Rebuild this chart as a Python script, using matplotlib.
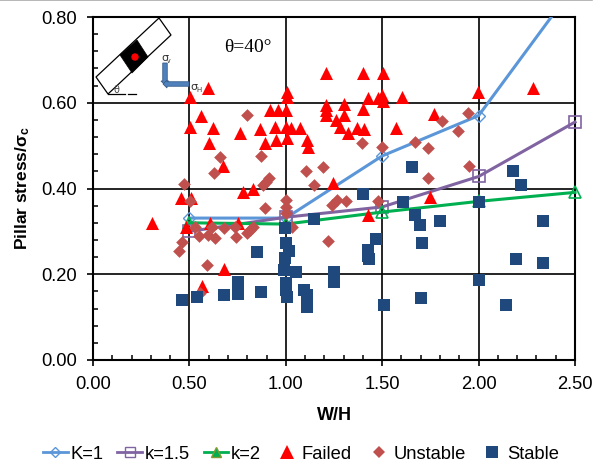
import matplotlib
matplotlib.use("Agg")
import matplotlib.pyplot as plt
from matplotlib.lines import Line2D
from matplotlib.patches import Polygon, Circle, FancyArrow
from matplotlib.ticker import MultipleLocator, FormatStrFormatter
from matplotlib.transforms import Affine2D

plt.rcParams['font.family'] = ['Liberation Sans', 'DejaVu Sans']
plt.rcParams['mathtext.fontset'] = 'custom'
plt.rcParams['mathtext.bf'] = 'Liberation Sans:bold'
plt.rcParams['mathtext.rm'] = 'Liberation Sans'

# Stability curves
wh_curve = [0.5, 1.0, 1.5, 2.0, 2.5]
k1_values = [0.331, 0.331, 0.476, 0.570, 0.875]
k15_values = [0.300, 0.333, 0.357, 0.428, 0.555]
k2_values = [0.320, 0.317, 0.345, 0.370, 0.391]

# Case histories
failed_x = [.503, .596, .560, .503, .622, .601, .762, .674, .865, .917, .959, 1.0, .943, 1.0,
            1.026, 1.073, .891, .948, 1.005, .777, .829, .456, .508, 1.005, 1.005, 1.207,
            1.207, 1.207, 1.301, 1.301, 1.399, 1.425, 1.477, 1.497, 1.503, 1.601, 1.259,
            1.280, 1.321, 1.368, 1.404, 1.109, 1.114, 1.244, 1.570, 1.767, 1.207, 1.399,
            1.503, 2.280, 1.995, .306, .482, .606, .751, .679, .565, 1.425, 1.746]
failed_y = [.613, .634, .569, .543, .541, .506, .529, .452, .539, .583, .583, .583, .543, .543,
            .541, .541, .506, .513, .518, .392, .399, .378, .378, .625, .613, .595,
            .583, .571, .597, .571, .585, .611, .611, .618, .604, .613, .560,
            .543, .529, .541, .539, .513, .497, .413, .541, .574, .669, .669,
            .669, .634, .625, .320, .310, .320, .320, .212, .173, .338, .380]

unstable_x = [.798, .658, .627, .870, .881, .896, .912, .472, .503, .891, 1.0, 1.0, 1.0, 1.394,
              1.497, 1.104, 1.192, 1.145, 1.311, 1.264, 1.238, 1.477, 1.808, 1.943, 1.891,
              1.668, 1.736, 1.948, 1.736, 1.218, 1.031, .461, .446, .591, .528, .549, .596,
              .617, .632, .679, .736, .741, .798, .813, .829, .554]
unstable_y = [.571, .473, .436, .476, .408, .415, .424, .410, .371, .355, .373, .357, .343, .506,
              .497, .441, .450, .408, .371, .373, .362, .371, .557, .576, .534,
              .508, .494, .452, .424, .278, .310, .275, .254, .222, .310, .289, .292,
              .310, .285, .308, .310, .287, .296, .303, .310, .156]

stable_x = [.461, .539, .679, .751, .751, .751, .870, .850, .995, 1.0, 1.016, .995, .990, 1.052,
            1.0, 1.0, 1.005, 1.093, 1.109, 1.109, 1.109, 1.249, 1.249, 1.249, 1.145, 1.399,
            1.466, 1.425, 1.425, 1.430, 1.508, 1.606, 1.668, 1.694, 1.798, 1.705, 1.699,
            2.0, 2.0, 2.140, 2.192, 2.181, 2.218, 2.332, 2.332, 1.653]
stable_y = [.140, .147, .152, .182, .168, .154, .159, .252, .308, .273, .254, .238, .210, .205,
            .180, .163, .147, .163, .152, .135, .124, .205, .194, .182, .329, .387,
            .282, .257, .243, .236, .128, .369, .338, .315, .324, .273, .145,
            .369, .187, .128, .236, .441, .408, .324, .226, .450]

x_ticks = [0.0, 0.5, 1.0, 1.5, 2.0, 2.5]
y_ticks = [0.0, 0.2, 0.4, 0.6, 0.8]

W, H = 605, 465
fig = plt.figure(figsize=(W / 100, H / 100), dpi=100)
ax = fig.add_axes([93 / W, 1 - 360 / H, (575 - 93) / W, (360 - 17) / H])
ax.set_xlim(0, 2.5)
ax.set_ylim(0, 0.8)
ax.set_xticks(x_ticks)
ax.set_yticks(y_ticks)
ax.xaxis.set_minor_locator(MultipleLocator(0.1))
ax.yaxis.set_minor_locator(MultipleLocator(0.04))
ax.xaxis.set_major_formatter(FormatStrFormatter('%.2f'))
ax.yaxis.set_major_formatter(FormatStrFormatter('%.2f'))
ax.tick_params(which='major', direction='out', length=4.5, width=1.2, labelsize=13.2, pad=7)
ax.tick_params(which='minor', direction='in', length=3.5, width=1.1)
ax.grid(True, which='major', color='black', lw=1.2)
ax.set_axisbelow(True)
for s in ax.spines.values():
    s.set_linewidth(1.5)
ax.set_xlabel('W/H', fontsize=13, fontweight='bold', labelpad=10)
ax.set_ylabel(r'Pillar stress/$\mathbf{\sigma_c}$', fontsize=12.5, fontweight='bold', labelpad=7)

blue, purple, green = '#5B96D8', '#8064A2', '#00B050'
ax.plot(wh_curve, k1_values, color=blue, lw=2.2, marker='D', ms=6, mfc='none', mec=blue, mew=1, zorder=3)
ax.plot(wh_curve, k15_values, color=purple, lw=2.2, marker='s', ms=8, mfc='none', mec=purple, mew=1.2,
        clip_on=False, zorder=3)
ax.plot(wh_curve, k2_values, color=green, lw=2.2, marker='^', ms=8, mfc='none', mec=green, mew=1.2,
        clip_on=False, zorder=3)
ax.scatter(failed_x, failed_y, marker='^', s=88, color='#FF0000', linewidths=0, zorder=4)
ax.scatter(unstable_x, unstable_y, marker='D', s=42, color='#C0504D', linewidths=0, zorder=5)
ax.scatter(stable_x, stable_y, marker='s', s=76, color='#1F497D', linewidths=0, zorder=6)

handles = [
    Line2D([], [], color=blue, lw=2, marker='D', ms=5, mfc='none', mec=blue),
    Line2D([], [], color=purple, lw=2, marker='s', ms=7, mfc='none', mec=purple),
    Line2D([], [], color=green, lw=2, marker='^', ms=7, mfc=green, mec='#7F9A30'),
    Line2D([], [], ls='none', marker='^', ms=9.4, color='#FF0000', mew=0),
    Line2D([], [], ls='none', marker='D', ms=6.5, color='#C0504D', mew=0),
    Line2D([], [], ls='none', marker='s', ms=8.7, color='#1F497D', mew=0),
]
labels = ['K=1', 'k=1.5', 'k=2', 'Failed', 'Unstable', 'Stable']
fig.legend(handles, labels, ncol=6, loc='center', bbox_to_anchor=(301 / W, 1 - 454 / H), frameon=False,
           fontsize=13.2, handlelength=1.35, handletextpad=0.12, columnspacing=0.78, borderpad=0, borderaxespad=0)

# Inset sketch, placed in figure pixels measured from the top left
px = Affine2D().scale(1, -1).translate(0, H)
def add(artist):
    artist.set_transform(px)
    artist.set_clip_on(False)
    artist.set_zorder(7)
    fig.add_artist(artist)

add(Polygon([(159, 18), (171, 35), (108, 94), (96, 77)], closed=True, fc='white', ec='black', lw=0.9))
add(Polygon([(137, 40), (148, 57), (132, 73), (120, 55)], closed=True, fc='black', ec='black', lw=0.5))
add(Circle((135, 57), 3, fc='red', ec='red'))
add(Line2D([108, 125], [94, 94], color='black', lw=0.9))
add(Line2D([128, 136], [94, 94], color='black', lw=0.9))
add(FancyArrow(165, 63, 0, 22, width=4.5, head_width=8, head_length=4, length_includes_head=True,
               fc='#4F81BD', ec='#385D8A', lw=0.6))
add(FancyArrow(189, 84, -26, 0, width=4.5, head_width=8, head_length=4, length_includes_head=True,
               fc='#4F81BD', ec='#385D8A', lw=0.6))
fig.text(114 / W, 1 - 93 / H, 'θ', fontsize=7, family=['DejaVu Sans'], color='#444444', zorder=8)
fig.text(161 / W, 1 - 61 / H, 'σ', fontsize=8, family=['DejaVu Sans'], color='#333333', zorder=8)
fig.text(167 / W, 1 - 63 / H, 'v', fontsize=5, color='#333333', zorder=8)
fig.text(190 / W, 1 - 90 / H, 'σ', fontsize=8, family=['DejaVu Sans'], color='#333333', zorder=8)
fig.text(196 / W, 1 - 92 / H, 'H', fontsize=5, color='#333333', zorder=8)
fig.text(224 / W, 1 - 47 / H, 'θ=40°', fontsize=14, va='center', color='black',
         family=['Liberation Serif'], zorder=8)

fig.add_artist(Line2D([0, 592 / W], [1 - 0.5 / H, 1 - 0.5 / H], color='#AAAAAA', lw=1.2))
fig.savefig('out.png', dpi=100)
